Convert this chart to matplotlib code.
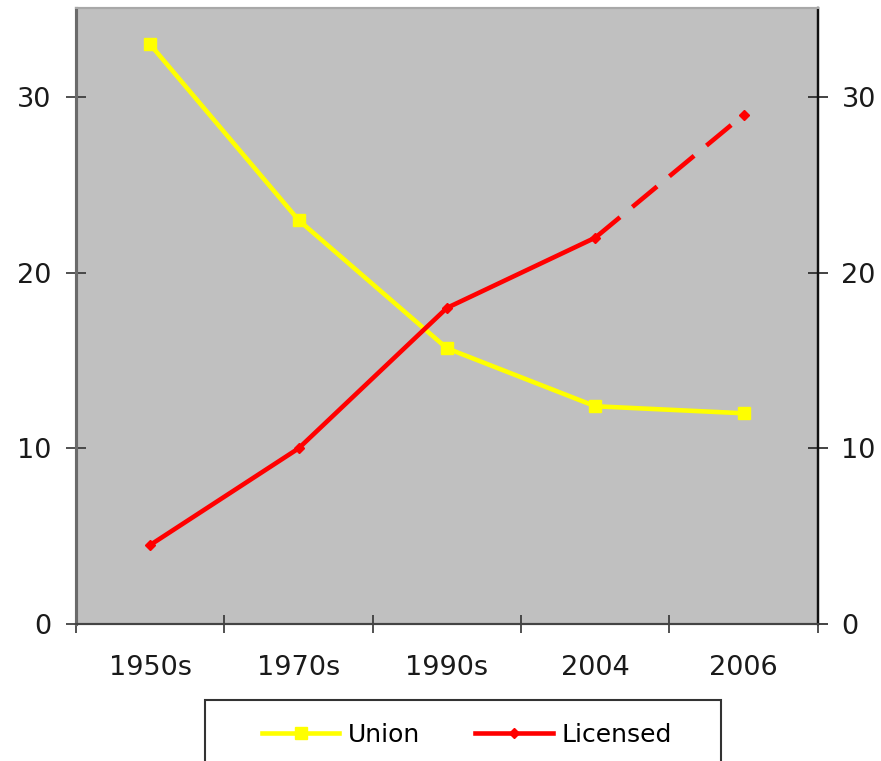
import matplotlib.pyplot as plt
import matplotlib.patches as mpatches
import numpy as np

categories = ["1950s", "1970s", "1990s", "2004", "2006"]
union = [33.0, 23.0, 15.7, 12.4, 12.0]
licensed = [4.5, 10.0, 18.0, 22.0, 29.0]

plt.rcParams['font.family'] = ['DejaVu Sans']

fig = plt.figure(figsize=(8.81, 7.61), dpi=100)
ax = fig.add_axes([0.0863, 0.180, 0.842, 0.810])
ax.set_facecolor("#c0c0c0")

x = np.arange(len(categories))

# solid part of licensed, dashed last segment
ax.plot(x, union, color="#ffff00", lw=3.3, marker="s", ms=8,
        solid_joinstyle="round", zorder=3, label="Union")
ax.plot(x[:-1], licensed[:-1], color="#ff0000", lw=3.3, marker="D", ms=5,
        solid_joinstyle="round", zorder=4, label="Licensed")
ax.plot(x[-2:], licensed[-2:], color="#ff0000", lw=3.3,
        linestyle=(0, (7, 3.5)), zorder=4)
ax.plot(x[-1], licensed[-1], color="#ff0000", marker="D", ms=5, zorder=4)

ax.set_xlim(-0.5, 4.5)
ax.set_ylim(0, 35.1)

ax.set_xticks(np.arange(-0.5, 5, 1))
ax.set_xticklabels([])
ax.set_xticks(x, minor=True)
ax.set_xticklabels(categories, minor=True)
ax.tick_params(axis="x", which="major", direction="inout", length=13,
               width=1.2, color="#333333")
ax.tick_params(axis="x", which="minor", length=0, pad=22, labelsize=19.5,
               labelcolor="#1a1a1a")

ax.set_yticks([0, 10, 20, 30])
ax.tick_params(axis="y", direction="inout", length=14, width=1.2,
               color="#333333", pad=11, labelsize=19.5, labelcolor="#1a1a1a")

ax2 = ax.twinx()
ax2.set_ylim(ax.get_ylim())
ax2.set_yticks([0, 10, 20, 30])
ax2.tick_params(axis="y", direction="inout", length=14, width=1.2,
                color="#222222", pad=10, labelsize=19.5, labelcolor="#1a1a1a")

for a in (ax, ax2):
    a.spines["left"].set_color("#6a6a6a")
    a.spines["left"].set_linewidth(2.2)
    a.spines["bottom"].set_color("#444444")
    a.spines["bottom"].set_linewidth(1.5)
    a.spines["right"].set_color("#111111")
    a.spines["right"].set_linewidth(1.6)
    a.spines["top"].set_color("#a8a8a8")
    a.spines["top"].set_linewidth(1.5)

box = mpatches.Rectangle((0.233, -0.05), 0.585, 0.13, transform=fig.transFigure,
                         facecolor="white", edgecolor="#333333", lw=1.5)
fig.patches.append(box)

handles, labels = ax.get_legend_handles_labels()
fig.legend(handles, labels, loc="center", bbox_to_anchor=(0.530, 0.034),
           ncol=2, frameon=False, fontsize=18, handlelength=3.1,
           columnspacing=2.2, handletextpad=0.35, markerscale=1.0)

plt.savefig("out.png", dpi=100)
